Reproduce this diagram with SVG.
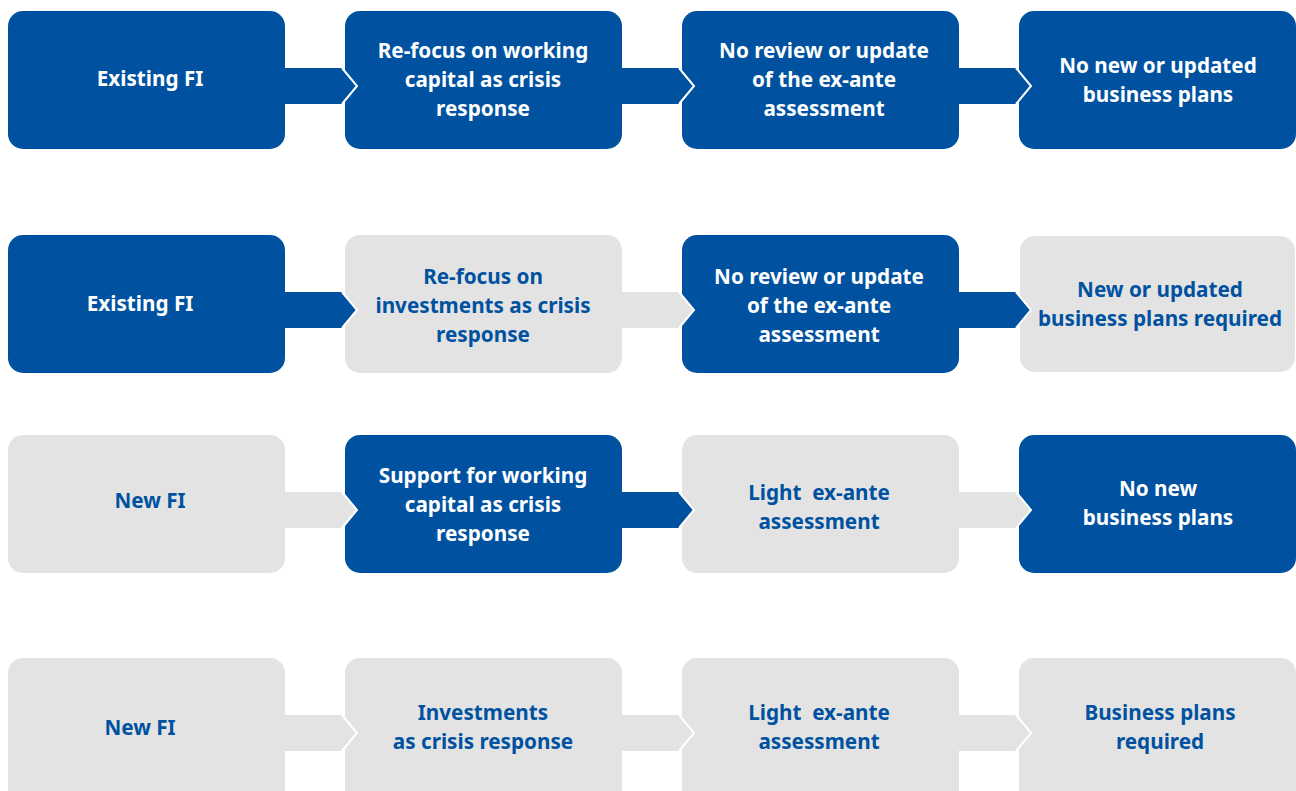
<svg xmlns="http://www.w3.org/2000/svg" width="1296" height="791" viewBox="0 0 1296 791">
  <style>
    .box { stroke: none; }
    .dark { fill: #0052A0; }
    .light { fill: #E3E3E3; }
    text { font-family: "Noto Sans", "Open Sans", "Liberation Sans", sans-serif; font-weight: 700; font-size: 20.7px; text-anchor: middle; }
    .on-dark { fill: #FFFFFF; }
    .on-light { fill: #0052A0; }
    .tip { fill: none; stroke: #FFFFFF; stroke-width: 2; stroke-linejoin: miter; }
  </style>
  <rect width="1296" height="791" fill="#FFFFFF"/>

  <!-- Row 1 -->
  <g id="r1-existing-fi">
    <rect class="box dark" x="8" y="11" width="277" height="138" rx="15"/>
    <text class="on-dark" x="150" y="86">Existing FI</text>
  </g>
  <g id="r1-refocus-working-capital">
    <rect class="box dark" x="345" y="11" width="277" height="138" rx="15"/>
    <text class="on-dark" x="483" y="58">Re-focus on working</text>
    <text class="on-dark" x="483" y="87">capital as crisis</text>
    <text class="on-dark" x="483" y="116">response</text>
  </g>
  <g id="r1-no-review">
    <rect class="box dark" x="682" y="11" width="277" height="138" rx="15"/>
    <text class="on-dark" x="824" y="58">No review or update</text>
    <text class="on-dark" x="824" y="87">of the ex-ante</text>
    <text class="on-dark" x="824" y="116">assessment</text>
  </g>
  <g id="r1-no-new-plans">
    <rect class="box dark" x="1019" y="11" width="277" height="138" rx="15"/>
    <text class="on-dark" x="1158" y="73">No new or updated</text>
    <text class="on-dark" x="1158" y="102">business plans</text>
  </g>

  <!-- Row 2 -->
  <g id="r2-existing-fi">
    <rect class="box dark" x="8" y="235" width="277" height="138" rx="15"/>
    <text class="on-dark" x="140" y="311">Existing FI</text>
  </g>
  <g id="r2-refocus-investments">
    <rect class="box light" x="345" y="235" width="277" height="138" rx="15"/>
    <text class="on-light" x="483" y="284">Re-focus on</text>
    <text class="on-light" x="483" y="313">investments as crisis</text>
    <text class="on-light" x="483" y="342">response</text>
  </g>
  <g id="r2-no-review">
    <rect class="box dark" x="682" y="235" width="277" height="138" rx="15"/>
    <text class="on-dark" x="819" y="284">No review or update</text>
    <text class="on-dark" x="819" y="313">of the ex-ante</text>
    <text class="on-dark" x="819" y="342">assessment</text>
  </g>
  <g id="r2-plans-required">
    <rect class="box light" x="1020" y="236" width="275" height="136" rx="15"/>
    <text class="on-light" x="1160" y="297">New or updated</text>
    <text class="on-light" x="1160" y="326">business plans required</text>
  </g>

  <!-- Row 3 -->
  <g id="r3-new-fi">
    <rect class="box light" x="8" y="435" width="277" height="138" rx="15"/>
    <text class="on-light" x="150" y="508">New FI</text>
  </g>
  <g id="r3-support-working-capital">
    <rect class="box dark" x="345" y="435" width="277" height="138" rx="15"/>
    <text class="on-dark" x="483" y="483">Support for working</text>
    <text class="on-dark" x="483" y="512">capital as crisis</text>
    <text class="on-dark" x="483" y="541">response</text>
  </g>
  <g id="r3-light-assessment">
    <rect class="box light" x="682" y="435" width="277" height="138" rx="15"/>
    <text class="on-light" x="819" y="500" xml:space="preserve">Light  ex-ante</text>
    <text class="on-light" x="819" y="529">assessment</text>
  </g>
  <g id="r3-no-new-plans">
    <rect class="box dark" x="1019" y="435" width="277" height="138" rx="15"/>
    <text class="on-dark" x="1158" y="496">No new</text>
    <text class="on-dark" x="1158" y="525">business plans</text>
  </g>

  <!-- Row 4 -->
  <g id="r4-new-fi">
    <rect class="box light" x="8" y="658" width="277" height="150" rx="15"/>
    <text class="on-light" x="140" y="735">New FI</text>
  </g>
  <g id="r4-investments">
    <rect class="box light" x="345" y="658" width="277" height="150" rx="15"/>
    <text class="on-light" x="483" y="720">Investments</text>
    <text class="on-light" x="483" y="749">as crisis response</text>
  </g>
  <g id="r4-light-assessment">
    <rect class="box light" x="682" y="658" width="277" height="150" rx="15"/>
    <text class="on-light" x="819" y="720" xml:space="preserve">Light  ex-ante</text>
    <text class="on-light" x="819" y="749">assessment</text>
  </g>
  <g id="r4-plans-required">
    <rect class="box light" x="1019" y="658" width="277" height="150" rx="15"/>
    <text class="on-light" x="1160" y="720">Business plans</text>
    <text class="on-light" x="1160" y="749">required</text>
  </g>

  <!-- Connectors: band leaving each box, ending in a chevron over the next box -->
  <g id="connectors">
    <!-- row 1 -->
    <polygon class="dark" points="280,68 342,68 357,86 342,104 280,104"/>
    <polyline class="tip" points="342,68 357,86 342,104"/>
    <polygon class="dark" points="617,68 679,68 694,86 679,104 617,104"/>
    <polyline class="tip" points="679,68 694,86 679,104"/>
    <polygon class="dark" points="954,68 1016,68 1031,86 1016,104 954,104"/>
    <polyline class="tip" points="1016,68 1031,86 1016,104"/>
    <!-- row 2 -->
    <polygon class="dark" points="280,292 342,292 357,310 342,328 280,328"/>
    <polyline class="tip" points="342,292 357,310 342,328"/>
    <polygon class="light" points="617,292 679,292 694,310 679,328 617,328"/>
    <polyline class="tip" points="679,292 694,310 679,328"/>
    <polygon class="dark" points="954,292 1016,292 1031,310 1016,328 954,328"/>
    <polyline class="tip" points="1016,292 1031,310 1016,328"/>
    <!-- row 3 -->
    <polygon class="light" points="280,492 342,492 357,510 342,528 280,528"/>
    <polyline class="tip" points="342,492 357,510 342,528"/>
    <polygon class="dark" points="617,492 679,492 694,510 679,528 617,528"/>
    <polyline class="tip" points="679,492 694,510 679,528"/>
    <polygon class="light" points="954,492 1016,492 1031,510 1016,528 954,528"/>
    <polyline class="tip" points="1016,492 1031,510 1016,528"/>
    <!-- row 4 -->
    <polygon class="light" points="280,715 342,715 357,733 342,751 280,751"/>
    <polyline class="tip" points="342,715 357,733 342,751"/>
    <polygon class="light" points="617,715 679,715 694,733 679,751 617,751"/>
    <polyline class="tip" points="679,715 694,733 679,751"/>
    <polygon class="light" points="954,715 1016,715 1031,733 1016,751 954,751"/>
    <polyline class="tip" points="1016,715 1031,733 1016,751"/>
  </g>
</svg>
